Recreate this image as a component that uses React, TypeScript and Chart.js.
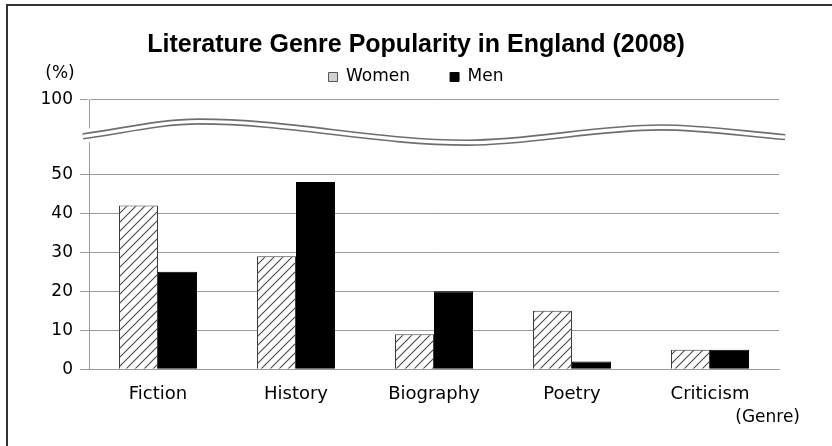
import React, { useEffect, useRef } from 'react';
import { Chart, registerables } from 'chart.js';

Chart.register(...registerables);

const categories = ['Fiction', 'History', 'Biography', 'Poetry', 'Criticism'];
const seriesNames = ['Women', 'Men'];
const women = [42, 29, 9, 15, 5];
const men = [25, 48, 20, 2, 5];
const lowerTicks = [0, 10, 20, 30, 40, 50];
const upperTicks = [100];
const titleText = 'Literature Genre Popularity in England (2008)';
const yUnitText = '(%)';
const xUnitText = '(Genre)';

const FONT = 'DejaVu Sans';
const GRID = '#9a9a9a';

function makeHatch(): CanvasPattern | string {
  const c = document.createElement('canvas');
  c.width = 9;
  c.height = 9;
  const g = c.getContext('2d');
  if (!g) return '#ddd';
  g.fillStyle = '#ffffff';
  g.fillRect(0, 0, 9, 9);
  g.strokeStyle = '#4a4a4a';
  g.lineWidth = 1.1;
  g.beginPath();
  g.moveTo(-1, 10);
  g.lineTo(10, -1);
  g.moveTo(-1, 1);
  g.lineTo(1, -1);
  g.moveTo(8, 10);
  g.lineTo(10, 8);
  g.stroke();
  return g.createPattern(c, 'repeat') || '#ddd';
}

const framePlugin = {
  id: 'frame',
  beforeDraw(chart: any) {
    const ctx = chart.ctx;
    ctx.save();
    ctx.fillStyle = '#ffffff';
    ctx.fillRect(0, 0, chart.width, chart.height);
    ctx.restore();
  },
  afterDraw(chart: any) {
    const ctx = chart.ctx;
    ctx.save();
    ctx.fillStyle = '#ffffff';
    ctx.fillRect(chart.width - 12, 6, 12, 40);
    ctx.fillStyle = '#333333';
    ctx.fillRect(6, 4, chart.width - 6, 2);
    ctx.fillRect(6, 4, 2, chart.height - 4);
    ctx.restore();
  },
};

const wavePlugin = {
  id: 'wave',
  afterDatasetsDraw(chart: any) {
    const { ctx, chartArea } = chart;
    const yLow = chart.scales.y;
    const yTop = chart.scales.yTop;
    const top = yTop.getPixelForValue(100);
    const bot = yLow.getPixelForValue(50);
    const w = chartArea.right - chartArea.left;
    const pts = [
      [-0.009, 0.49],
      [0.16, 0.29],
      [0.548, 0.575],
      [0.828, 0.37],
      [1.009, 0.5],
    ].map(([fx, fy]) => [chartArea.left + fx * w, top + fy * (bot - top)]);
    const path = () => {
      ctx.beginPath();
      ctx.moveTo(pts[0][0], pts[0][1]);
      for (let i = 0; i < pts.length - 1; i++) {
        const [x0, y0] = pts[i];
        const [x1, y1] = pts[i + 1];
        const dx = x1 - x0;
        const c1y = i === 0 ? y0 + (y1 - y0) * 0.35 : y0;
        const c2y = i === pts.length - 2 ? y1 + (y0 - y1) * 0.35 : y1;
        ctx.bezierCurveTo(x0 + dx / 3, c1y, x1 - dx / 3, c2y, x1, y1);
      }
    };
    ctx.save();
    ctx.fillStyle = '#ffffff';
    ctx.fillRect(chartArea.left - 2, chartArea.top - 2, 4, top - chartArea.top + 1.5);
    ctx.lineCap = 'butt';
    path();
    ctx.strokeStyle = '#ffffff';
    ctx.lineWidth = 14;
    ctx.stroke();
    path();
    ctx.strokeStyle = '#6e6e6e';
    ctx.lineWidth = 6.5;
    ctx.stroke();
    path();
    ctx.strokeStyle = '#ffffff';
    ctx.lineWidth = 3.2;
    ctx.stroke();
    ctx.restore();
  },
};

const unitsPlugin = {
  id: 'units',
  afterDraw(chart: any) {
    const { ctx, chartArea } = chart;
    ctx.save();
    ctx.fillStyle = '#000';
    ctx.textBaseline = 'middle';
    ctx.font = `17px "${FONT}"`;
    ctx.textAlign = 'center';
    ctx.fillText(yUnitText, chartArea.left - 29, 74);
    ctx.textAlign = 'right';
    ctx.fillText(xUnitText, chartArea.right + 21, 418);
    ctx.restore();
  },
};

export default function App() {
  const ref = useRef<HTMLCanvasElement | null>(null);

  useEffect(() => {
    if (!ref.current) return;
    const hatch = makeHatch();
    const tickFont = { family: FONT, size: 17 };
    const chart = new Chart(ref.current, {
      type: 'bar',
      data: {
        labels: categories,
        datasets: [
          {
            label: seriesNames[0],
            data: women,
            backgroundColor: hatch as any,
            borderColor: '#3c3c3c',
            borderWidth: 1,
            yAxisID: 'y',
          },
          {
            label: seriesNames[1],
            data: men,
            backgroundColor: '#000000',
            borderColor: '#000000',
            borderWidth: 1,
            yAxisID: 'y',
          },
        ],
      },
      options: {
        responsive: false,
        animation: false,
        events: [],
        datasets: {
          bar: { barPercentage: 1, categoryPercentage: 0.565 },
        },
        layout: { padding: 0 },
        plugins: {
          tooltip: { enabled: false },
          title: {
            display: true,
            text: titleText,
            color: '#000',
            font: { family: 'Liberation Sans', size: 25, weight: 'bold' },
            padding: { top: 30, bottom: -31.5 },
          },
          legend: {
            display: true,
            position: 'top',
            labels: {
              boxWidth: 9,
              boxHeight: 9,
              padding: 40,
              color: '#000',
              font: { family: FONT, size: 17 },
              generateLabels: () =>
                seriesNames.map((n, i) => ({
                  text: n,
                  fillStyle: i === 0 ? '#d2d2d2' : '#000000',
                  strokeStyle: i === 0 ? '#555555' : '#000000',
                  lineWidth: 1,
                  datasetIndex: i,
                  hidden: false,
                  fontColor: '#000',
                })),
            },
          },
        },
        scales: {
          x: {
            grid: { display: false, drawTicks: false },
            border: { display: true, color: GRID, width: 1 },
            ticks: { color: '#000', font: { family: FONT, size: 18 }, padding: 14, maxRotation: 0 },
            afterFit: (s: any) => {
              s.height = 76.7;
            },
          },
          y: {
            type: 'linear',
            position: 'left',
            stack: 'v',
            stackWeight: 195,
            weight: 0,
            min: 0,
            max: 50,
            afterBuildTicks: (s: any) => {
              s.ticks = lowerTicks.map((v) => ({ value: v }));
            },
            grid: { color: GRID, tickLength: 9, drawTicks: true },
            border: { color: GRID, width: 1 },
            ticks: { color: '#000', font: tickFont, padding: 7 },
            afterFit: (s: any) => {
              s.width = 89;
            },
          },
          yTop: {
            type: 'linear',
            position: 'left',
            stack: 'v',
            stackWeight: 78.8,
            weight: 1,
            min: 50,
            max: 103,
            afterBuildTicks: (s: any) => {
              s.ticks = upperTicks.map((v) => ({ value: v }));
            },
            grid: { color: GRID, tickLength: 9, drawTicks: true },
            border: { color: GRID, width: 1 },
            ticks: { color: '#000', font: tickFont, padding: 7 },
            afterFit: (s: any) => {
              s.width = 89;
            },
          },
          yPad: {
            type: 'linear',
            position: 'right',
            display: true,
            grid: { display: false, drawTicks: false },
            border: { display: false },
            ticks: { display: false },
            afterFit: (s: any) => {
              s.width = 53;
            },
          },
        },
      } as any,
      plugins: [framePlugin, wavePlugin, unitsPlugin],
    });
    return () => chart.destroy();
  }, []);

  return (
    <div style={{ position: 'fixed', left: 0, top: 0, width: 832, height: 446, background: '#fff' }}>
      <canvas ref={ref} width={832} height={446} style={{ display: 'block' }} />
    </div>
  );
}
